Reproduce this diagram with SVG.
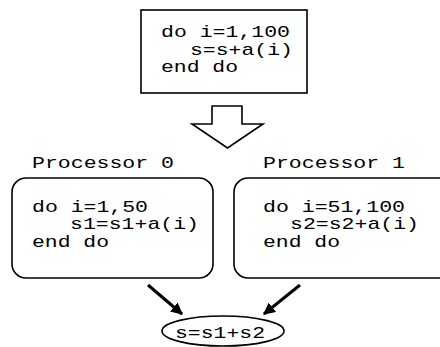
<svg xmlns="http://www.w3.org/2000/svg" width="440" height="347" viewBox="0 0 440 347">
<style>
  .t { font-family: "Liberation Mono", "Courier New", monospace; font-size: 17px; fill: #000; }
  .box { fill: #fff; stroke: #000; stroke-width: 1.6; }
  .edge { stroke: #000; stroke-width: 3; fill: none; }
</style>
<defs>
  <marker id="ah" viewBox="0 0 10 10" refX="9" refY="5" markerWidth="4" markerHeight="4" markerUnits="strokeWidth" orient="auto">
    <path d="M0,0 L10,5 L0,10 z" fill="#000"/>
  </marker>
</defs>
<rect width="440" height="347" fill="#fff"/>
<g id="serial">
  <rect class="box" x="141" y="10" width="166" height="83"/>
  <text class="t" x="161" y="37" textLength="129" lengthAdjust="spacingAndGlyphs">do i=1,100</text>
  <text class="t" x="190" y="55" textLength="103" lengthAdjust="spacingAndGlyphs">s=s+a(i)</text>
  <text class="t" x="161" y="72" textLength="77" lengthAdjust="spacingAndGlyphs">end do</text>
</g>
<g id="split-arrow">
  <polygon points="212,106 242,106 242,124 263,124 227.5,148 192,124 212,124" fill="#fff" stroke="#000" stroke-width="1.6"/>
</g>
<g id="proc0">
  <text class="t" x="32" y="168" textLength="142" lengthAdjust="spacingAndGlyphs">Processor 0</text>
  <rect class="box" x="12" y="178" width="201" height="100" rx="14" ry="14"/>
  <text class="t" x="32" y="212" textLength="116" lengthAdjust="spacingAndGlyphs">do i=1,50</text>
  <text class="t" x="70" y="229" textLength="129" lengthAdjust="spacingAndGlyphs">s1=s1+a(i)</text>
  <text class="t" x="32" y="247" textLength="77" lengthAdjust="spacingAndGlyphs">end do</text>
</g>
<g id="proc1">
  <text class="t" x="263" y="168" textLength="142" lengthAdjust="spacingAndGlyphs">Processor 1</text>
  <rect class="box" x="234" y="178" width="220" height="100" rx="14" ry="14"/>
  <text class="t" x="263" y="212" textLength="142" lengthAdjust="spacingAndGlyphs">do i=51,100</text>
  <text class="t" x="290" y="229" textLength="129" lengthAdjust="spacingAndGlyphs">s2=s2+a(i)</text>
  <text class="t" x="263" y="247" textLength="77" lengthAdjust="spacingAndGlyphs">end do</text>
</g>
<g id="sum">
  <ellipse cx="223" cy="331" rx="61" ry="15" fill="#fff" stroke="#000" stroke-width="1.6"/>
  <text class="t" x="175" y="338" textLength="90" lengthAdjust="spacingAndGlyphs">s=s1+s2</text>
</g>
<g id="connectors">
  <line class="edge" x1="148" y1="285" x2="182" y2="314" marker-end="url(#ah)"/>
  <line class="edge" x1="300" y1="285" x2="264" y2="314" marker-end="url(#ah)"/>
</g>
</svg>
